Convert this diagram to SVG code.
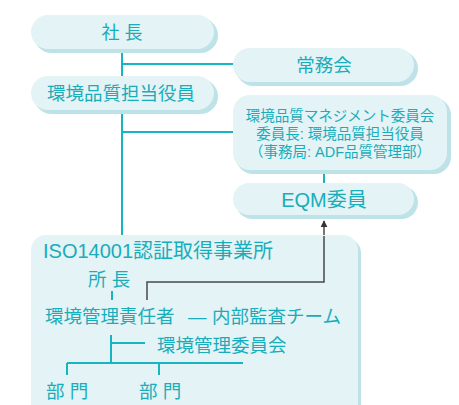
<svg xmlns="http://www.w3.org/2000/svg" width="459" height="405" viewBox="0 0 459 405">
<style>
.bg{fill:#e4f3f5}
.sh{fill:#bde3e8}
.t{font-family:"Liberation Sans","Noto Sans CJK JP",sans-serif;fill:#18adbb}
.c{text-anchor:middle}
.ln{stroke:#17b4c2;stroke-width:2;fill:none}
.ar{stroke:#4a4a4a;stroke-width:1.5;fill:none}
</style>
<defs>
<marker id="ah" viewBox="0 0 10 10" refX="9" refY="5" markerWidth="7" markerHeight="7" markerUnits="userSpaceOnUse" orient="auto">
<path d="M0,0 L10,5 L0,10 z" fill="#333"/>
</marker>
</defs>
<rect width="459" height="405" fill="#fff"/>
<g id="connectors">
<path class="ln" d="M122,50 V78 M122,112 V237 M122,64 H236 M122,132 H236 M324,171 V185"/>
<path class="ar" d="M324,236 V221" marker-end="url(#ah)"/>
</g>
<g id="n-president">
<rect class="sh" x="34" y="18" width="184" height="35" rx="17.5"/>
<rect class="bg" x="31" y="15" width="183" height="34" rx="17"/>
<text class="t c" x="122" y="39" font-size="18">社 長</text>
</g>
<g id="n-officer">
<rect class="sh" x="34" y="79" width="184" height="35" rx="17.5"/>
<rect class="bg" x="31" y="76" width="183" height="34" rx="17"/>
<text class="t c" x="121" y="100" font-size="18.5">環境品質担当役員</text>
</g>
<g id="n-board">
<rect class="sh" x="236" y="51" width="182" height="35" rx="17.5"/>
<rect class="bg" x="233" y="48" width="181" height="34" rx="17"/>
<text class="t c" x="324" y="72" font-size="18.5">常務会</text>
</g>
<g id="n-committee">
<rect class="sh" x="236" y="98" width="215" height="76" rx="17"/>
<rect class="bg" x="233" y="95" width="214" height="75" rx="17"/>
<text class="t c" x="340" y="121" font-size="14.5">環境品質マネジメント委員会</text>
<text class="t c" x="340" y="139" font-size="14.5">委員長: 環境品質担当役員</text>
<text class="t c" x="340" y="157" font-size="14.5">（事務局: ADF品質管理部）</text>
</g>
<g id="n-eqm">
<rect class="sh" x="236" y="186" width="182" height="33" rx="16.5"/>
<rect class="bg" x="233" y="183" width="181" height="32" rx="16"/>
<text class="t c" x="324" y="207" font-size="20">EQM委員</text>
</g>
<g id="n-site">
<path class="sh" d="M34,420 V253 A15,15 0 0 1 49,238 H346 A15,15 0 0 1 361,253 V420 Z"/>
<path class="bg" d="M31,420 V250 A15,15 0 0 1 46,235 H343 A15,15 0 0 1 358,250 V420 Z"/>
<path class="ln" d="M112,291 V300 M111,335 V363 M111,343 H145 M67,363 H243 M67,363 V375 M159,363 V375"/>
<path class="ar" d="M147,300 V282 H324 V236"/>
<text class="t" x="43" y="258" font-size="20">ISO14001認証取得事業所</text>
<text class="t" x="88" y="286" font-size="18.5">所 長</text>
<text class="t" x="45" y="323" font-size="18.5">環境管理責任者 <tspan x="188">—</tspan> <tspan x="212">内部監査チーム</tspan></text>
<text class="t" x="157" y="352" font-size="18.5">環境管理委員会</text>
<text class="t" x="46" y="398" font-size="18.5">部 門</text>
<text class="t" x="139" y="398" font-size="18.5">部 門</text>
</g>
</svg>
